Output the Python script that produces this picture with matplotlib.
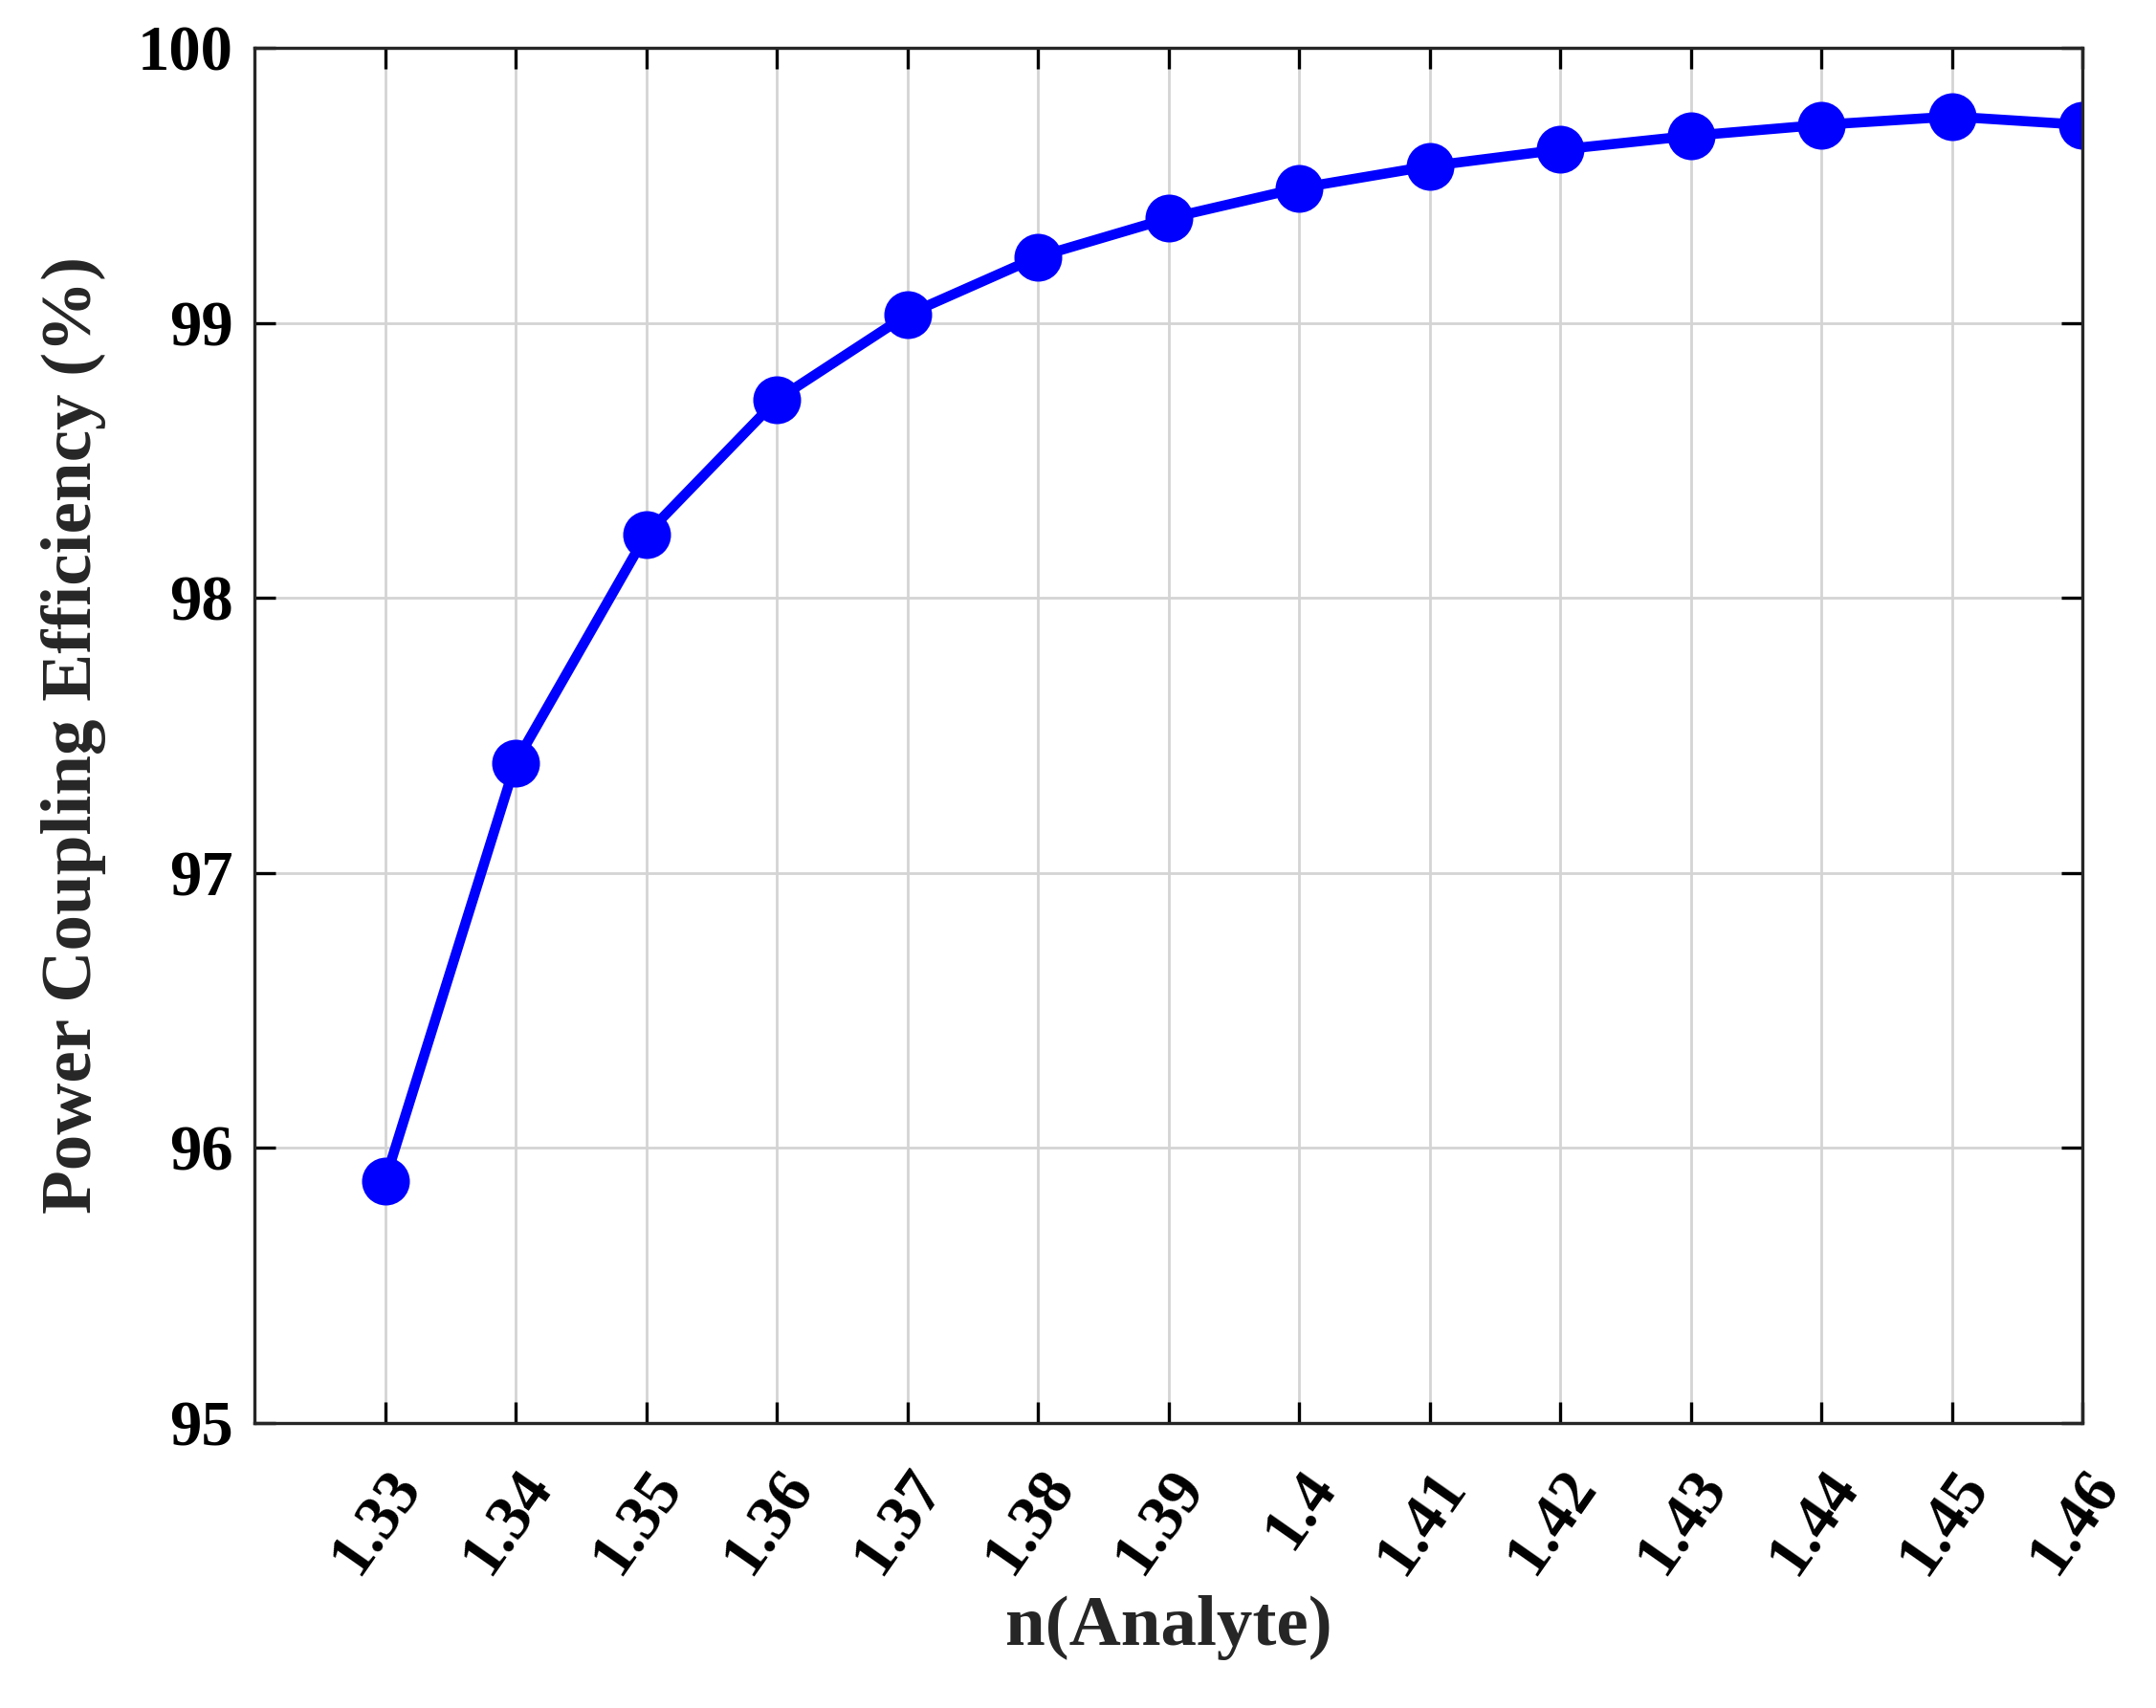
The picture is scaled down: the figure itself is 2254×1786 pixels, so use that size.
import matplotlib
matplotlib.use("Agg")
import matplotlib.pyplot as plt

n_analyte = [1.33, 1.34, 1.35, 1.36, 1.37, 1.38, 1.39, 1.40, 1.41, 1.42, 1.43, 1.44, 1.45, 1.46]
efficiency = [95.88, 97.40, 98.23, 98.72, 99.03, 99.24, 99.38, 99.49, 99.57, 99.63, 99.68, 99.72, 99.75, 99.72]
tick_labels = ["1.33", "1.34", "1.35", "1.36", "1.37", "1.38", "1.39", "1.4", "1.41", "1.42", "1.43", "1.44", "1.45", "1.46"]

plt.rcParams['font.family'] = ['Liberation Serif', 'DejaVu Serif']
plt.rcParams['font.weight'] = 'bold'

fig = plt.figure(figsize=(11.27, 8.93), dpi=200)
ax = fig.add_axes([0.118, 0.167, 0.848, 0.805])
ax.plot(n_analyte, efficiency, color='#0000ff', lw=3.8, marker='o', ms=17)
ax.set_xlim(1.32, 1.46)
ax.set_ylim(95, 100)
ax.set_xticks(n_analyte)
ax.set_xticklabels(tick_labels, rotation=55, ha='right', va='top', rotation_mode='anchor')
ax.set_yticks([95, 96, 97, 98, 99, 100])
ax.tick_params(direction='in', top=True, right=True, labelsize=24, length=8, width=1.2)
ax.tick_params(axis='x', pad=14)
ax.tick_params(axis='y', pad=8)
for lab in ax.get_xticklabels() + ax.get_yticklabels():
    lab.set_fontweight('bold')
ax.grid(True, color='#d4d4d4', lw=1)
for s in ax.spines.values():
    s.set_linewidth(1.2)
    s.set_color('#262626')
ax.set_xlabel('n(Analyte)', fontsize=27, fontweight='bold', labelpad=4, color='#262626')
ax.set_ylabel('Power Coupling Efficiency (%)', fontsize=27, fontweight='bold', labelpad=12, color='#262626')
fig.savefig('out.png', dpi=200)
